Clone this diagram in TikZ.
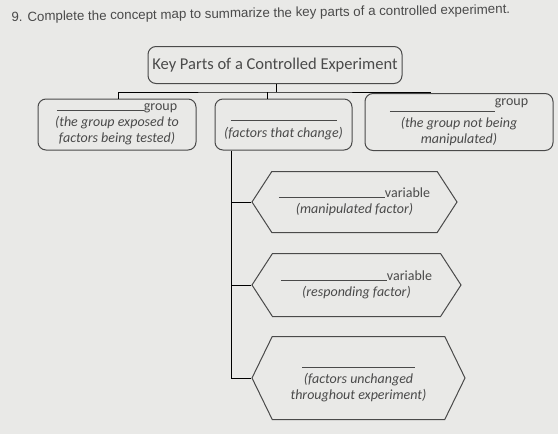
\documentclass[tikz,border=0pt]{standalone}
\usepackage{fontspec}
\setmainfont{Carlito}
\newfontfamily\askfont{Liberation Sans}
\usetikzlibrary{shapes.symbols}
\definecolor{ink}{HTML}{4A4A4A}
\definecolor{paper}{HTML}{E9E9E7}
\newcommand{\blank}[1]{\rule{#1}{0.6pt}}
\begin{document}
\begin{tikzpicture}[x=1pt,y=-1pt,
      line width=1pt,
      every node/.style={
        text=ink,
        inner sep=1pt,   % text sits close to the frame
        font=\fontsize{14}{16}\selectfont
      },
      ovalbox/.style={
        draw=ink, rounded corners=8pt, align=center
      },
      hexbox/.style={
        draw=ink, signal, signal to=west and east,
        signal pointer angle=#1, align=center
      }]
      \fill[paper] (0,0) rectangle (558,434);
      \useasboundingbox (0,0) rectangle (558,434);

      \node[font=\askfont\fontsize{13.3}{15}\selectfont, anchor=west, rotate=0.9] (ask) at (10,18)
        {9. Complete the concept map to summarize the key parts of a controlled experiment.};

      \node[ovalbox, minimum width=254pt, minimum height=37pt,
        font=\fontsize{16.5}{18}\selectfont] (kp) at (275,65)
        {Key Parts of a Controlled Experiment};

      % first row
      \node[ovalbox, minimum width=158pt, minimum height=51pt] (expg) at (117,124.5)
        {\blank{87pt}group\\ \itshape(the group exposed to\\ \itshape factors being tested)};
      \node[ovalbox, minimum width=137pt, minimum height=51pt] (vars) at (283.5,124.5)
        {\rule{0pt}{12pt}\blank{106pt}\\[1pt] \itshape(factors that change)};
      \node[ovalbox, minimum width=188pt, minimum height=57pt] (ctlg) at (459,122)
        {\blank{105pt}\raisebox{6pt}{group}\\ \itshape(the group not being\\ \itshape manipulated)};

      % variables column
      \node[hexbox=114, minimum width=205pt, minimum height=61pt] (indv) at (354.5,202)
        {\blank{106pt}variable\\ \itshape(manipulated factor)};
      \node[hexbox=114, minimum width=209pt, minimum height=63pt] (depv) at (356.5,285)
        {\blank{106pt}variable\\ \itshape(responding factor)};
      \node[hexbox=128, minimum width=213pt, minimum height=83pt] (ctlv) at (358.5,378)
        {\rule{0pt}{14pt}\blank{113pt}\\ \itshape(factors unchanged\\ \itshape throughout experiment)};

      \coordinate (bar) at (276,92);
      \coordinate (trunk) at ([xshift=-52pt]vars.south);

      \draw (kp.south -| bar) -- (bar);
      \draw ([xshift=1pt]expg.north) |- (bar) -| ([xshift=-29pt]ctlg.north);
      \draw ([xshift=-16pt]vars.north) -- ([xshift=-16pt]vars.north |- bar);
      \draw (trunk) |- (ctlv.west);
      \draw (indv.west) -- (indv.west -| trunk);
      \draw (depv.west) -- (depv.west -| trunk);
    \end{tikzpicture}
\end{document}
